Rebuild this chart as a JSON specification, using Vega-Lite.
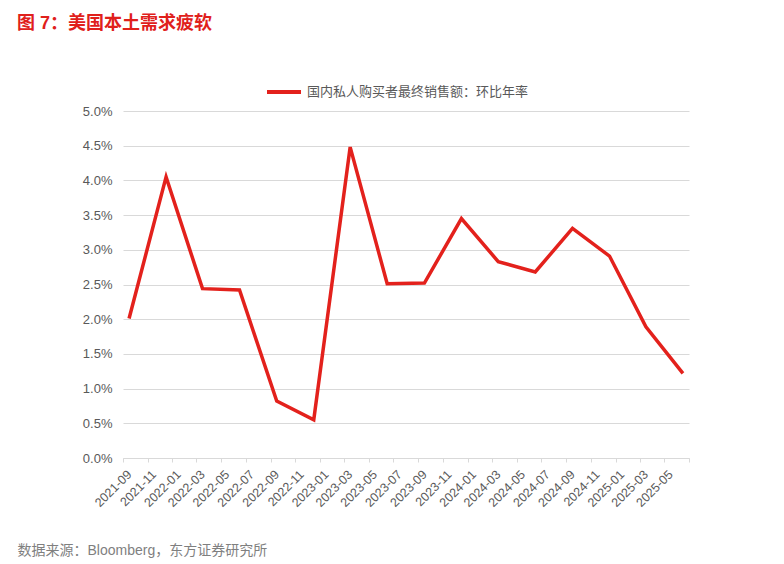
{
  "$schema": "https://vega.github.io/schema/vega-lite/v6.json",
  "width": 566,
  "height": 347,
  "autosize": {"type": "none"},
  "padding": {"left": 123, "top": 111, "right": 95, "bottom": 106},
  "background": "white",
  "title": {
    "text": "图 7：美国本土需求疲软",
    "anchor": "start",
    "frame": "group",
    "fontSize": 18,
    "fontWeight": "bold",
    "color": "#e0201b",
    "font": "Liberation Sans, Noto Sans CJK SC",
    "dx": -106,
    "offset": 40
  },
  "data": {
    "values": [
      {"date": "2021-09-01", "value": 2.01, "series": "国内私人购买者最终销售额：环比年率"},
      {"date": "2021-12-01", "value": 4.05, "series": "国内私人购买者最终销售额：环比年率"},
      {"date": "2022-03-01", "value": 2.44, "series": "国内私人购买者最终销售额：环比年率"},
      {"date": "2022-06-01", "value": 2.42, "series": "国内私人购买者最终销售额：环比年率"},
      {"date": "2022-09-01", "value": 0.82, "series": "国内私人购买者最终销售额：环比年率"},
      {"date": "2022-12-01", "value": 0.55, "series": "国内私人购买者最终销售额：环比年率"},
      {"date": "2023-03-01", "value": 4.48, "series": "国内私人购买者最终销售额：环比年率"},
      {"date": "2023-06-01", "value": 2.51, "series": "国内私人购买者最终销售额：环比年率"},
      {"date": "2023-09-01", "value": 2.52, "series": "国内私人购买者最终销售额：环比年率"},
      {"date": "2023-12-01", "value": 3.45, "series": "国内私人购买者最终销售额：环比年率"},
      {"date": "2024-03-01", "value": 2.83, "series": "国内私人购买者最终销售额：环比年率"},
      {"date": "2024-06-01", "value": 2.68, "series": "国内私人购买者最终销售额：环比年率"},
      {"date": "2024-09-01", "value": 3.31, "series": "国内私人购买者最终销售额：环比年率"},
      {"date": "2024-12-01", "value": 2.91, "series": "国内私人购买者最终销售额：环比年率"},
      {"date": "2025-03-01", "value": 1.89, "series": "国内私人购买者最终销售额：环比年率"},
      {"date": "2025-06-01", "value": 1.22, "series": "国内私人购买者最终销售额：环比年率"}
    ]
  },
  "mark": {"type": "line", "strokeWidth": 3.5, "strokeJoin": "miter", "strokeCap": "butt"},
  "encoding": {
    "x": {
      "field": "date",
      "type": "temporal",
      "timeUnit": "utcyearmonth",
      "bandPosition": 0.5,
      "scale": {
        "type": "utc",
        "domain": [
          {"year": 2021, "month": 9, "date": 1, "utc": true},
          {"year": 2025, "month": 7, "date": 1, "utc": true}
        ]
      },
      "axis": {
        "orient": "bottom",
        "tickCount": {"interval": "month", "step": 2},
        "labelExpr": "utcFormat(datum.value, '%Y-%m') === '2025-07' ? '' : utcFormat(datum.value, '%Y-%m')",
        "labelAngle": -45,
        "labelAlign": "right",
        "labelBaseline": "middle",
        "labelOffset": 6,
        "labelPadding": 10,
        "labelOverlap": false,
        "labelFlush": false,
        "labelFontSize": 12.5,
        "labelFont": "Liberation Sans",
        "labelColor": "#595959",
        "tickSize": 4,
        "tickColor": "#d9d9d9",
        "domainColor": "#d9d9d9",
        "grid": false,
        "title": "数据来源：Bloomberg，东方证券研究所",
        "titleX": -106,
        "titleY": 92,
        "titleAlign": "left",
        "titleBaseline": "middle",
        "titleAngle": 0,
        "titleFontSize": 14,
        "titleFontWeight": "normal",
        "titleColor": "#7f7f7f",
        "titleFont": "Liberation Sans, Noto Sans CJK SC"
      }
    },
    "y": {
      "field": "value",
      "type": "quantitative",
      "scale": {"domain": [0, 5], "nice": false},
      "axis": {
        "values": [0, 0.5, 1, 1.5, 2, 2.5, 3, 3.5, 4, 4.5, 5],
        "labelExpr": "format(datum.value, '.1f') + '%'",
        "domain": false,
        "ticks": false,
        "labelPadding": 11,
        "grid": true,
        "gridColor": "#d9d9d9",
        "gridWidth": 1,
        "labelFontSize": 13,
        "labelFont": "Liberation Sans",
        "labelColor": "#595959",
        "title": null
      }
    },
    "color": {
      "field": "series",
      "type": "nominal",
      "scale": {"range": ["#e3211c"]},
      "legend": {
        "orient": "none",
        "legendX": 142,
        "legendY": -38,
        "title": null,
        "symbolType": "stroke",
        "symbolSize": 1156,
        "symbolStrokeWidth": 4,
        "symbolOffset": 0,
        "labelOffset": 4,
        "labelLimit": 500,
        "labelFontSize": 13,
        "labelFont": "Noto Sans CJK SC",
        "labelColor": "#595959"
      }
    }
  },
  "config": {"view": {"stroke": null}}
}
